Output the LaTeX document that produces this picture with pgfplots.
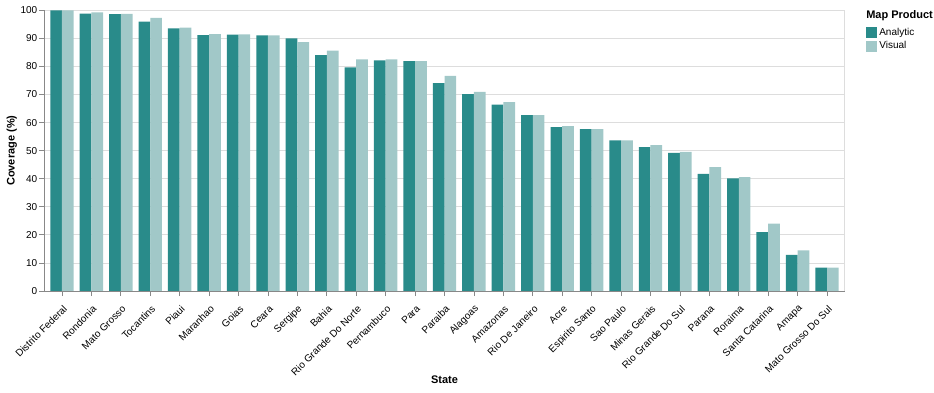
\documentclass[border=0pt]{standalone}
\usepackage{pgfplots}
\pgfplotsset{compat=1.18}
\usepackage{fontspec}
\setmainfont{Liberation Sans}
\definecolor{analytic}{RGB}{41,139,138}
\definecolor{visual}{RGB}{161,200,200}
\definecolor{gridc}{RGB}{221,221,221}
\definecolor{domc}{RGB}{136,136,136}
\begin{document}
\begin{tikzpicture}
\useasboundingbox (0pt,0pt) rectangle (934pt,392pt);
\begin{axis}[
  at={(44.5pt,101pt)}, anchor=south west,
  scale only axis, width=800pt, height=280.7pt,
  ybar=0pt, bar width=11.7pt,
  xmin=-0.594, xmax=26.594, ymin=0, ymax=100,
  xtick={0,...,26},
  xticklabels={Distrito Federal,Rondonia,Mato Grosso,Tocantins,Piaui,Maranhao,Goias,Ceara,Sergipe,Bahia,Rio Grande Do Norte,Pernambuco,Para,Paraiba,Alagoas,Amazonas,Rio De Janeiro,Acre,Espirito Santo,Sao Paulo,Minas Gerais,Rio Grande Do Sul,Parana,Roraima,Santa Catarina,Amapa,Mato Grosso Do Sul},
  ytick={0,10,...,100},
  ymajorgrids, grid style={gridc, line width=0.8pt},
  axis line style={gridc, line width=0.8pt},
  tick align=outside, major tick length=5pt,
  tick style={domc, line width=0.8pt},
  xtick pos=bottom, ytick pos=left,
  /pgf/number format/assume math mode=true,
  yticklabel style={font=\fontsize{10}{12}\selectfont, inner sep=1pt, xshift=-1pt},
  xticklabel style={font=\fontsize{10}{12}\selectfont, xshift=4pt, yshift=-10.5pt, rotate=45, anchor=east, inner sep=1pt},
  ylabel={Coverage (\%)},
  ylabel style={font=\fontsize{11}{13}\selectfont\bfseries, at={(axis description cs:-0.041,0.5)}, anchor=center},
  xlabel={State},
  xlabel style={font=\fontsize{11}{13}\selectfont\bfseries, at={(axis description cs:0.5,-0.316)}, anchor=center},
  legend style={at={(axis description cs:1.027,0.943)}, anchor=north west, draw=none, fill=none,
    font=\fontsize{10}{12}\selectfont, inner sep=0pt, row sep=0.5pt,
    /tikz/every even column/.append style={column sep=3pt}},
  legend cell align=left,
  legend image code/.code={\fill[#1] (0pt,-5.5pt) rectangle (11pt,5.5pt);},
  clip=false,
]
\addplot[fill=analytic, draw=none] coordinates {
(0,100) (1,98.8) (2,98.6) (3,96.0) (4,93.6) (5,91.2) (6,91.3) (7,91.1) (8,90.0) (9,84.0)
(10,79.7) (11,82.2) (12,81.9) (13,74.1) (14,70.1) (15,66.4) (16,62.7) (17,58.4)
(18,57.7) (19,53.7) (20,51.3) (21,49.2) (22,41.7) (23,40.1) (24,21.0) (25,12.9) (26,8.3)};
\addplot[fill=visual, draw=none] coordinates {
(0,100) (1,99.3) (2,98.7) (3,97.3) (4,93.8) (5,91.5) (6,91.4) (7,91.1) (8,88.7) (9,85.6)
(10,82.5) (11,82.5) (12,81.9) (13,76.6) (14,70.9) (15,67.3) (16,62.7) (17,58.7)
(18,57.7) (19,53.7) (20,52.0) (21,49.6) (22,44.1) (23,40.6) (24,24.0) (25,14.5) (26,8.3)};
\legend{Analytic,Visual}
\draw[domc, line width=0.8pt] (rel axis cs:0,1) -- (rel axis cs:0,0) -- (rel axis cs:1,0);
\node[anchor=base west, inner sep=0pt, font=\fontsize{11}{13}\selectfont\bfseries] at (axis description cs:1.027,0.97) {Map Product};
\end{axis}
\end{tikzpicture}
\end{document}
